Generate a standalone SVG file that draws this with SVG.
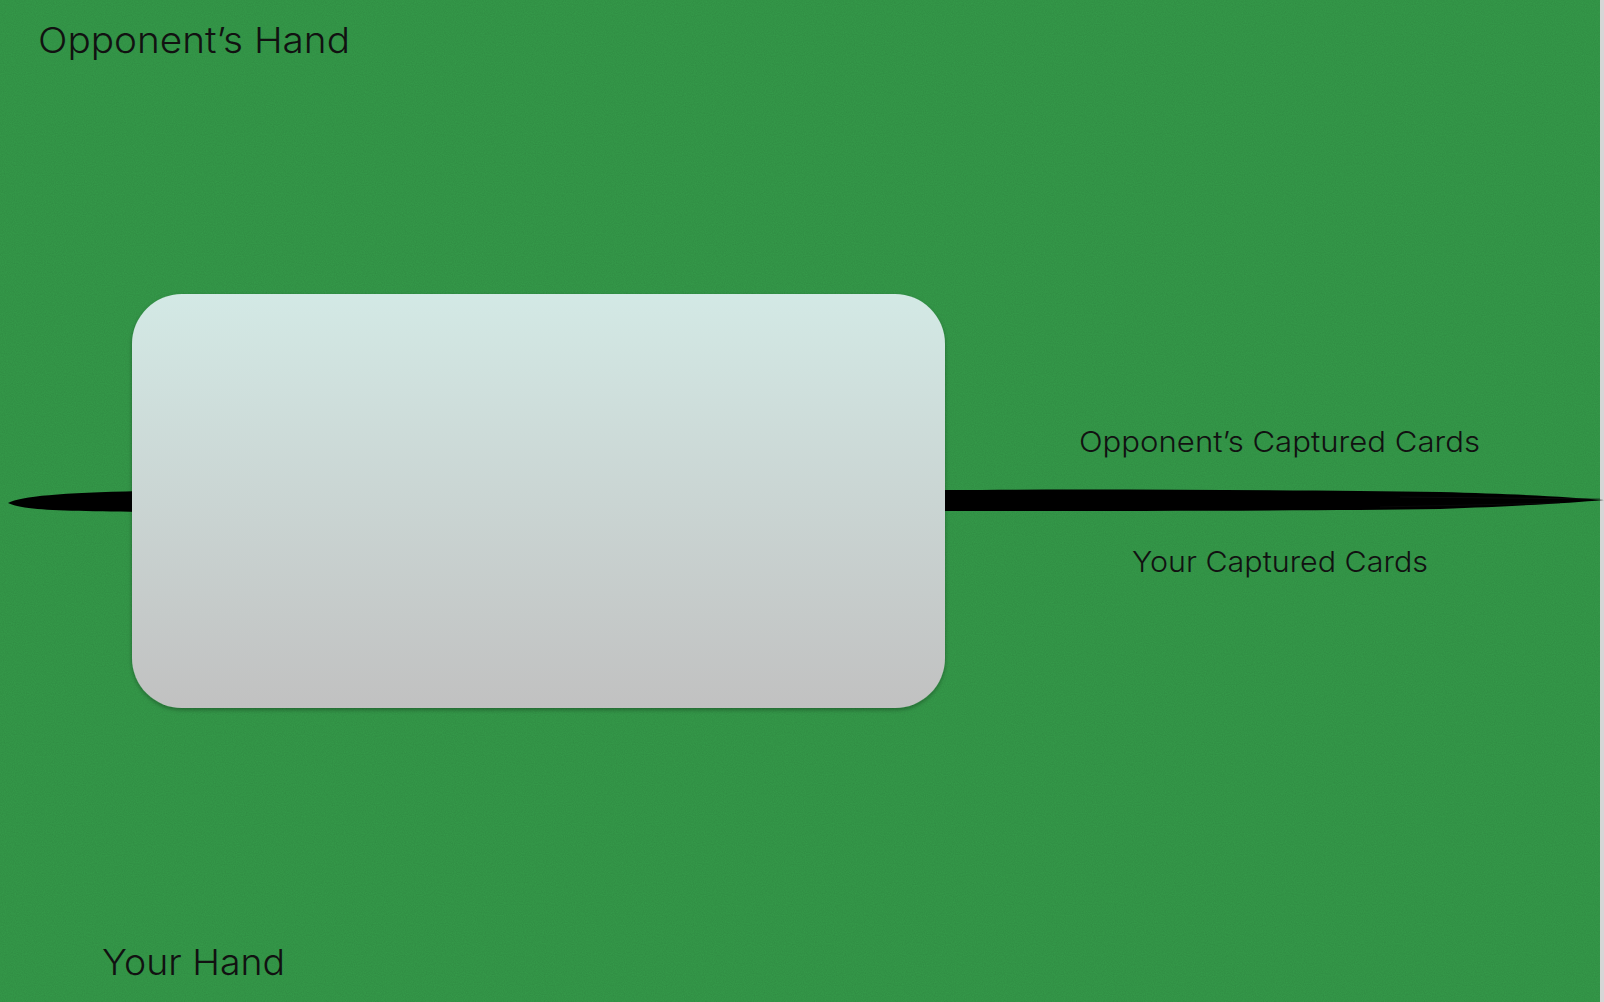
<svg xmlns="http://www.w3.org/2000/svg" width="1604" height="1002" viewBox="0 0 1604 1002">
  <defs>
    <linearGradient id="cardGrad" x1="0" y1="0" x2="0" y2="1">
      <stop offset="0" stop-color="#d3e9e5"/>
      <stop offset="1" stop-color="#c1c1c1"/>
    </linearGradient>
    <filter id="noise" x="0" y="0" width="100%" height="100%">
      <feTurbulence type="fractalNoise" baseFrequency="0.9" numOctaves="2" seed="3" result="n"/>
      <feColorMatrix type="matrix" values="0 0 0 0 0  0 0 0 0 0  0 0 0 0 0  0 0 0 0.10 0" in="n"/>
    </filter>
    <filter id="shadow" x="-5%" y="-5%" width="110%" height="115%">
      <feDropShadow dx="0" dy="2" stdDeviation="2" flood-color="#000" flood-opacity="0.3"/>
    </filter>
    <style>
      .label { font-family: Inter, "Liberation Sans", Arial, sans-serif; fill: #111; font-weight: 300; }
      .big { font-size: 36px; }
      .small { font-size: 29px; }
    </style>
  </defs>

  <g id="background">
    <rect x="0" y="0" width="1604" height="1002" fill="#359b4a"/>
    <rect x="0" y="0" width="1600" height="1002" filter="url(#noise)"/>
    <rect x="1600" y="0" width="4" height="1002" fill="#d6d6d6"/>
  </g>

  <g id="connectors">
    <path d="M 8 503 C 22 496, 60 493, 140 491 L 945 490 C 1100 489, 1300 490, 1440 492 C 1520 494, 1570 497, 1604 500 C 1570 503, 1520 506, 1440 509 C 1300 511, 1100 511, 945 511 L 140 512 C 60 511, 22 510, 8 503 Z" fill="#000"/>
    <path d="M 1400 497 L 1600 499" stroke="#111" stroke-width="1" opacity="0.6"/>
    <path d="M 1380 507 L 1560 503" stroke="#111" stroke-width="1" opacity="0.5"/>
  </g>

  <g id="card">
    <rect x="132" y="294" width="813" height="414" rx="50" ry="50" fill="url(#cardGrad)" filter="url(#shadow)"/>
  </g>

  <g id="opponent-hand">
    <text class="label big" x="38" y="53" textLength="312" lengthAdjust="spacingAndGlyphs">Opponent’s Hand</text>
  </g>
  <g id="your-hand">
    <text class="label big" x="102" y="975" textLength="183" lengthAdjust="spacingAndGlyphs">Your Hand</text>
  </g>
  <g id="opponent-captured">
    <text class="label small" x="1079" y="452" textLength="401" lengthAdjust="spacingAndGlyphs">Opponent’s Captured Cards</text>
  </g>
  <g id="your-captured">
    <text class="label small" x="1132" y="572" textLength="296" lengthAdjust="spacingAndGlyphs">Your Captured Cards</text>
  </g>
</svg>
